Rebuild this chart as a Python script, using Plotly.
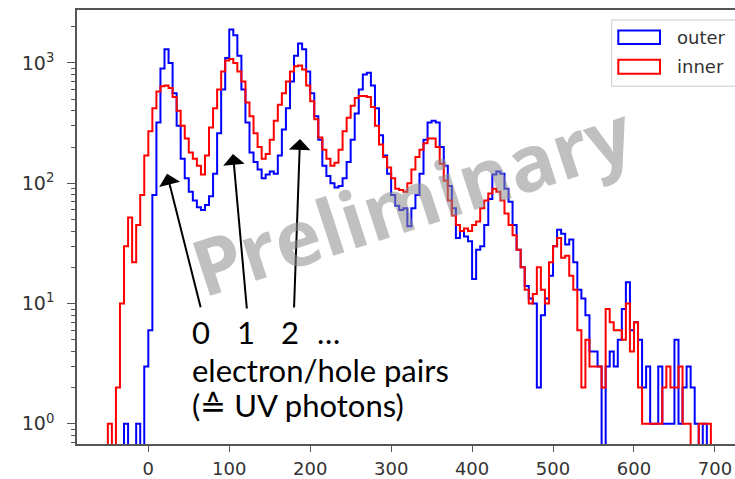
import numpy as np
import plotly.graph_objects as go

# ---------------- data (histogram counts, bin width 5) ----------------
bin_width = 5
outer_start = -30
outer_counts = [
    1, 0, 0, 1, 0, 3, 6, 80, 320, 900,            # -30 .. 15
    1300, 1000, 560, 300, 160, 110, 85, 72, 63, 60,  # 20 .. 65
    66, 78, 120, 260, 600, 1100, 1900, 1700, 1150, 600,  # 70 .. 115
    320, 180, 150, 130, 110, 118, 125, 120, 170, 280,  # 120 .. 165
    420, 700, 1150, 1450, 1300, 850, 560, 360, 230, 140,  # 170 .. 215
    115, 100, 92, 95, 110, 150, 230, 380, 600, 800,  # 220 .. 265
    830, 650, 420, 250, 170, 120, 80, 65, 60, 62,  # 270 .. 315
    44, 62, 80, 120, 230, 320, 330, 320, 200, 140,  # 320 .. 365
    95, 62, 35, 40, 36, 33, 16, 28, 30, 45,  # 370 .. 415
    74, 118, 125, 120, 90, 70, 45, 28, 20, 14,  # 420 .. 465
    11, 10, 2, 8, 11, 17, 30, 41, 38, 31,  # 470 .. 515
    34, 22, 13, 11, 8, 4, 4, 3, 0, 3,  # 520 .. 565
    4, 3, 5, 9, 15, 6, 7, 5, 2, 3,  # 570 .. 615
    1, 1, 3, 1, 1, 1, 5, 1, 2, 3,  # 620 .. 665
    2, 1, 0, 1,  # 670 .. 685
]

inner_start = -50
inner_counts = [
    1, 0, 2, 10, 30, 52, 22, 45, 80, 170,  # -50 .. -5
    270, 420, 580, 640, 650, 620, 520, 400, 300, 235,  # 0 .. 45
    180, 160, 140, 118, 170, 290, 420, 600, 850, 1050,  # 50 .. 95
    1080, 1000, 850, 700, 470, 360, 260, 200, 160, 175,  # 100 .. 145
    230, 330, 450, 560, 700, 850, 940, 950, 880, 650,  # 150 .. 195
    480, 340, 240, 190, 160, 140, 148, 190, 270, 350,  # 200 .. 245
    440, 510, 530, 530, 520, 430, 300, 210, 165, 135,  # 250 .. 295
    110, 90, 88, 85, 100, 130, 165, 190, 215, 235,  # 300 .. 345
    235, 200, 145, 105, 72, 54, 45, 40, 42, 40,  # 350 .. 395
    45, 48, 62, 72, 82, 90, 85, 72, 56, 45,  # 400 .. 445
    37, 28, 20, 13, 10, 12, 20, 13, 10, 22,  # 450 .. 495
    30, 35, 24, 25, 17, 13, 6, 2, 5, 3,  # 500 .. 545
    3, 3, 2, 9, 7, 6, 6, 5, 10, 4,  # 550 .. 595
    7, 2, 1, 1, 1, 1, 1, 2, 3, 2,  # 600 .. 645
    2, 3, 1, 1, 0, 0, 1, 1, 1,  # 650 .. 690
]

series_names = ["outer", "inner"]
series_colors = ["#0000ff", "#ff0000"]

x_ticks = [0, 100, 200, 300, 400, 500, 600, 700]
y_ticks = [1, 10, 100, 1000]
y_tick_text = ["10<sup>0</sup>", "10<sup>1</sup>", "10<sup>2</sup>", "10<sup>3</sup>"]

number_labels = ["0", "1", "2", "…"]
label_line1 = "electron/hole pairs"
label_line2 = "(≙ UV photons)"
watermark = "Preliminary"

# ---------------- helpers ----------------
FLOOR = 0.1  # empty bins drop below the axis (log scale)


def step_xy(start, counts):
    counts = np.asarray(counts, dtype=float)
    edges = start + bin_width * np.arange(len(counts) + 1)
    vals = np.where(counts > 0, counts, FLOOR)
    xs = np.repeat(edges, 2)
    ys = np.concatenate([[FLOOR], np.repeat(vals, 2), [FLOOR]])
    return xs, ys


# layout geometry (pixels)
W, H = 735, 479
ML, MR, MT, MB = 77, 0, 10, 32
PW, PH = W - ML - MR, H - MT - MB


def px(xp):
    return (xp - ML) / PW


def py(yp):
    return (H - MB - yp) / PH


fig = go.Figure()
for start, counts, name, color in [
    (outer_start, outer_counts, series_names[0], series_colors[0]),
    (inner_start, inner_counts, series_names[1], series_colors[1]),
]:
    xs, ys = step_xy(start, counts)
    fig.add_trace(go.Scatter(x=xs, y=ys, mode="lines", name=name,
                             line=dict(color=color, width=2), showlegend=False))

axis_col = "#555555"
tick_font = dict(family="DejaVu Sans", size=18, color="#333333")

minor_vals = [m * 10 ** k for k in range(-1, 4) for m in range(2, 10)]

fig.update_layout(
    width=W, height=H,
    margin=dict(l=ML, r=MR, t=MT, b=MB, pad=0),
    paper_bgcolor="white", plot_bgcolor="white",
    showlegend=False,
    xaxis=dict(range=[-88.1, 724.8], tickvals=x_ticks, ticks="outside", ticklen=6,
               tickwidth=1.3, tickcolor=axis_col, showline=True, linecolor=axis_col,
               linewidth=1.6, mirror=True, showgrid=False, zeroline=False,
               tickfont=tick_font, ticklabelstandoff=2),
    yaxis=dict(type="log", range=[-0.1676, 3.440], tickvals=y_ticks, ticktext=y_tick_text,
               ticks="outside", ticklen=8, tickwidth=1.3, tickcolor=axis_col,
               showline=True, linecolor=axis_col, linewidth=1.6, mirror=False,
               showgrid=False, zeroline=False, tickfont=dict(family="DejaVu Sans", size=19,
                                                             color="#333333"),
               ticklabelstandoff=9,
               minor=dict(tickmode="array", tickvals=minor_vals, ticks="outside",
                          ticklen=4, tickwidth=1, tickcolor=axis_col, showgrid=False)),
)

# ---------------- manual legend (matplotlib-style patches) ----------------
fig.add_shape(type="rect", xref="paper", yref="paper",
              x0=px(611.7), x1=px(745), y0=py(86.7), y1=py(20),
              line=dict(color="#cccccc", width=1), fillcolor="rgba(255,255,255,0.8)")
legend_rows = [(30.7, 44.3, 38.0), (60.0, 74.3, 67.3)]
for (top, bot, mid), name, color in zip(legend_rows, series_names, series_colors):
    fig.add_shape(type="rect", xref="paper", yref="paper",
                  x0=px(618.3), x1=px(660), y0=py(bot), y1=py(top),
                  line=dict(color=color, width=2), fillcolor="rgba(0,0,0,0)")
    fig.add_annotation(xref="paper", yref="paper", x=px(675), y=py(mid),
                       text=name, showarrow=False, xanchor="left", yanchor="middle",
                       font=dict(family="DejaVu Sans", size=18, color="#333333"))

# ---------------- arrows ----------------
arrow_tips = [(23.1, 2.078, 34, 135), (104.6, 2.243, 14, 156), (187.4, 2.367, -6, 170)]
for x, ylog, ax, ay in arrow_tips:
    fig.add_annotation(x=x, y=ylog, xref="x", yref="y", text="", showarrow=True,
                       ax=ax, ay=ay, arrowhead=1, arrowsize=1.8, arrowwidth=2,
                       arrowcolor="black", standoff=0)

# ---------------- text labels ----------------
txt_font = dict(family="Lato", size=31, color="black")
for lbl, cx in zip(number_labels, [201, 246, 290, 328]):
    fig.add_annotation(xref="paper", yref="paper", x=px(cx), y=py(334), text=lbl,
                       showarrow=False, xanchor="center", yanchor="middle", font=txt_font)
fig.add_annotation(xref="paper", yref="paper", x=px(190), y=py(372), text=label_line1,
                   showarrow=False, xanchor="left", yanchor="middle", font=txt_font)
fig.add_annotation(xref="paper", yref="paper", x=px(190), y=py(408), text=label_line2,
                   showarrow=False, xanchor="left", yanchor="middle", font=txt_font)

# ---------------- watermark ----------------
fig.add_annotation(xref="paper", yref="paper", x=px(411), y=py(200), text=watermark,
                   showarrow=False, textangle=-18, xanchor="center", yanchor="middle",
                   font=dict(family="Open Sans", size=78, color="rgba(140,140,140,0.55)",
                             weight="bold"))

fig.write_html("out.html")
